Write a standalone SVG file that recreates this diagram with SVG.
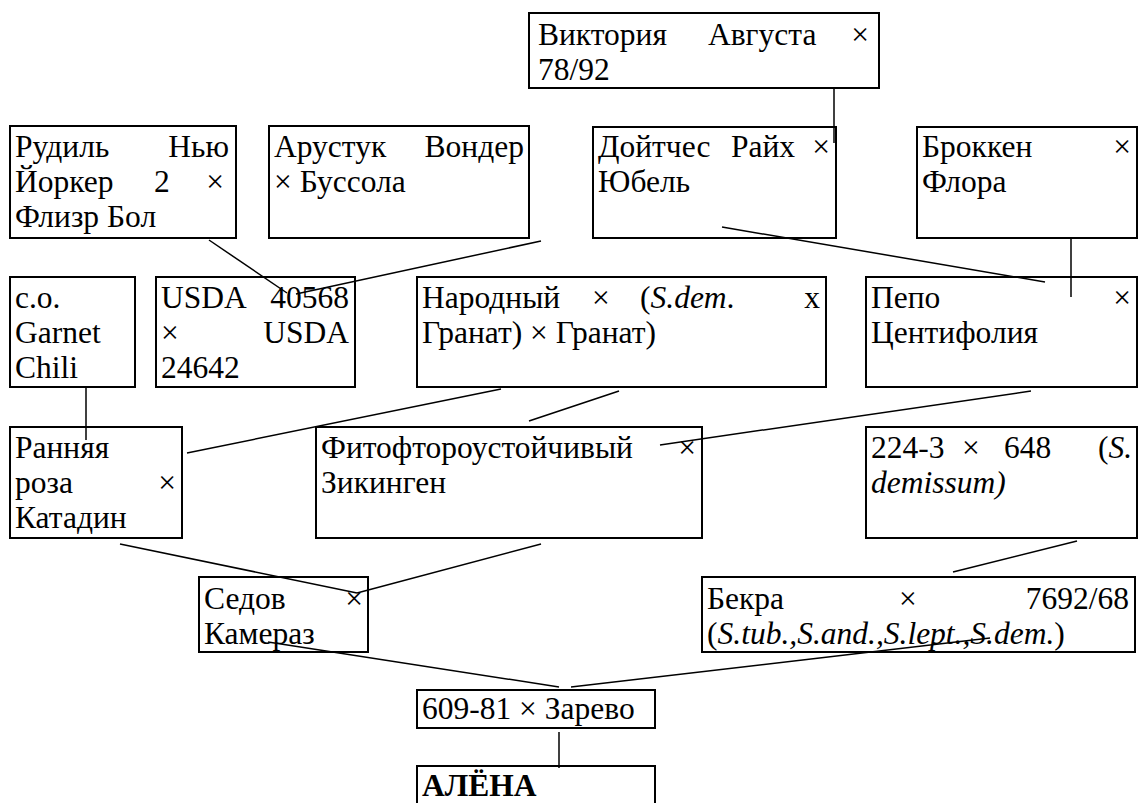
<svg xmlns="http://www.w3.org/2000/svg" width="1138" height="803" viewBox="0 0 1138 803">
<style>
.box{fill:#fff;stroke:#000;stroke-width:2}
.t{font-family:"Liberation Serif","Times New Roman",serif;font-size:31.5px;fill:#000}
.e{text-anchor:end}
.i{font-style:italic}
.b{font-weight:bold}
.c{stroke:#000;stroke-width:1.5;fill:none}
</style>
<rect width="1138" height="803" fill="#fff"/>
<g id="n-viktoria">
<rect class="box" x="529" y="13" width="350" height="75"/>
<text class="t" x="538" y="45">Виктория</text><text class="t" x="708" y="45">Августа</text><text class="t e" x="869" y="45">×</text>
<text class="t" x="538" y="80">78/92</text>
</g>
<g id="n-rudil">
<rect class="box" x="10" y="126" width="226" height="112"/>
<text class="t" x="15" y="157">Рудиль</text><text class="t e" x="229" y="157">Нью</text>
<text class="t" x="15" y="192">Йоркер</text><text class="t" x="154" y="192">2</text><text class="t e" x="224" y="192">×</text>
<text class="t" x="15" y="227">Флизр Бол</text>
</g>
<g id="n-arustuk">
<rect class="box" x="269" y="126" width="260" height="112"/>
<text class="t" x="274" y="157">Арустук</text><text class="t e" x="524" y="157">Вондер</text>
<text class="t" x="274" y="192">× Буссола</text>
</g>
<g id="n-doitches">
<rect class="box" x="593" y="127" width="243" height="111"/>
<text class="t" x="598" y="157">Дойтчес</text><text class="t" x="731" y="157">Райх</text><text class="t e" x="830" y="157">×</text>
<text class="t" x="598" y="192">Юбель</text>
</g>
<g id="n-brokken">
<rect class="box" x="917" y="127" width="220" height="111"/>
<text class="t" x="922" y="157">Броккен</text><text class="t e" x="1131" y="157">×</text>
<text class="t" x="922" y="192">Флора</text>
</g>
<g id="n-co">
<rect class="box" x="10" y="277" width="125" height="110"/>
<text class="t" x="15" y="308">c.o.</text>
<text class="t" x="15" y="343">Garnet</text>
<text class="t" x="15" y="378">Chili</text>
</g>
<g id="n-usda">
<rect class="box" x="156" y="277" width="199" height="110"/>
<text class="t" x="161" y="308">USDA</text><text class="t e" x="349" y="308">40568</text>
<text class="t" x="161" y="343">×</text><text class="t e" x="349" y="343">USDA</text>
<text class="t" x="161" y="378">24642</text>
</g>
<g id="n-narodny">
<rect class="box" x="417" y="277" width="409" height="110"/>
<text class="t" x="422" y="308">Народный</text><text class="t" x="592" y="308">×</text><text class="t" x="640" y="308">(<tspan class="i">S.dem</tspan>.</text><text class="t e" x="820" y="308">x</text>
<text class="t" x="422" y="343">Гранат) × Гранат)</text>
</g>
<g id="n-pepo">
<rect class="box" x="866" y="277" width="271" height="110"/>
<text class="t" x="871" y="308">Пепо</text><text class="t e" x="1131" y="308">×</text>
<text class="t" x="871" y="343">Центифолия</text>
</g>
<g id="n-rannyaya">
<rect class="box" x="10" y="427" width="172" height="111"/>
<text class="t" x="15" y="458">Ранняя</text>
<text class="t" x="15" y="493">роза</text><text class="t e" x="176" y="493">×</text>
<text class="t" x="15" y="528">Катадин</text>
</g>
<g id="n-fito">
<rect class="box" x="316" y="427" width="386" height="111"/>
<text class="t" x="321" y="458">Фитофтороустойчивый</text><text class="t e" x="696" y="458">×</text>
<text class="t" x="321" y="493">Зикинген</text>
</g>
<g id="n-224">
<rect class="box" x="866" y="427" width="271" height="111"/>
<text class="t" x="871" y="458">224-3</text><text class="t" x="962" y="458">×</text><text class="t" x="1004" y="458">648</text><text class="t e" x="1132" y="458">(<tspan class="i">S.</tspan></text>
<text class="t i" x="871" y="493">demissum)</text>
</g>
<g id="n-sedov">
<rect class="box" x="199" y="577" width="169" height="75"/>
<text class="t" x="204" y="609">Седов</text><text class="t e" x="363" y="609">×</text>
<text class="t" x="204" y="644">Камераз</text>
</g>
<g id="n-bekra">
<rect class="box" x="702" y="577" width="433" height="75"/>
<text class="t" x="707" y="609">Бекра</text><text class="t" x="899" y="609">×</text><text class="t e" x="1129" y="609">7692/68</text>
<text class="t" x="707" y="644">(<tspan class="i">S.tub.,S.and.,S.lept.,S.dem.</tspan>)</text>
</g>
<g id="n-609">
<rect class="box" x="417" y="690" width="238" height="38"/>
<text class="t" x="422" y="719">609-81 × Зарево</text>
</g>
<g id="n-alena">
<rect class="box" x="417" y="766" width="238" height="45"/>
<text class="t b" x="422" y="796">АЛЁНА</text>
</g>
<g id="connectors">
<line class="c" x1="834" y1="88" x2="834" y2="143"/>
<line class="c" x1="209" y1="240" x2="287" y2="293"/>
<line class="c" x1="541" y1="241" x2="296" y2="294"/>
<line class="c" x1="722" y1="227" x2="1045" y2="282"/>
<line class="c" x1="1071" y1="238" x2="1071" y2="297"/>
<line class="c" x1="86" y1="388" x2="86" y2="440"/>
<line class="c" x1="501" y1="389" x2="187" y2="453"/>
<line class="c" x1="619" y1="391" x2="529" y2="421"/>
<line class="c" x1="1031" y1="391" x2="660" y2="445"/>
<line class="c" x1="120" y1="544" x2="357" y2="593"/>
<line class="c" x1="541" y1="544" x2="357" y2="593"/>
<line class="c" x1="1077" y1="541" x2="953" y2="572"/>
<line class="c" x1="268" y1="642" x2="559" y2="687"/>
<line class="c" x1="990" y1="638" x2="571" y2="687"/>
<line class="c" x1="559" y1="732" x2="559" y2="768"/>
</g>
</svg>
